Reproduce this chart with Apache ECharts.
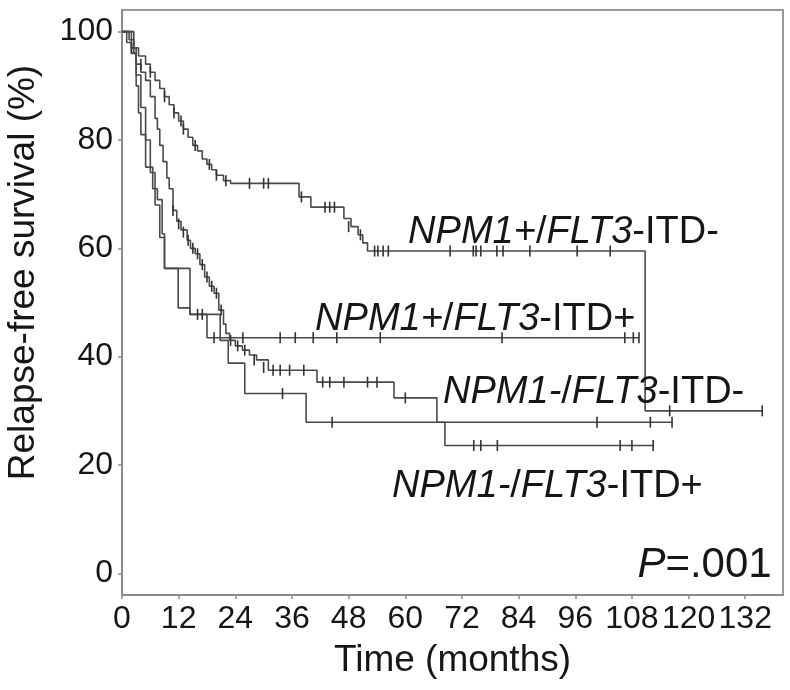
<!DOCTYPE html>
<html>
<head>
<meta charset="utf-8">
<script src="https://cdn.jsdelivr.net/npm/echarts@6/dist/echarts.min.js"></script>
<style>
  html, body { margin: 0; padding: 0; background: #fff; }
  #chart { width: 790px; height: 690px; }
</style>
</head>
<body>
<div id="chart"></div>
<script>
// tick values
let xTicks = [0, 12, 24, 36, 48, 60, 72, 84, 96, 108, 120, 132];
let yTicks = [0, 20, 40, 60, 80, 100];

// step points [months, survival %] (value after each drop)
let npmPosItdNeg = [[0,100],[1.5,98.5],[2.5,97],[3.5,95.5],[5,94],[6,92.5],[7,91],[8,89.5],[9,88],[10,86.5],[11,85],
    [12,83.5],[13,82],[14,80.5],[15,79],[16,78],[17,76.5],[18,75.5],[19,74.5],[20,73.5],[21.5,72.5],[23,72],
    [37.5,69.5],[40,67.6],[47,65.5],[48.5,64],[50,62.5],[51,61],[52,59.5],[110.8,30]];
let npmPosItdNegEnd = 135.6;
let npmPosItdNegCens = [[2,97],[4,94],[6,92.5],[9,88],[11,85],[12.5,83.5],[13,82],[15.5,79],[18.5,75.5],[20,73.5],
    [22,72.5],[27,72],[30,72],[31,72],[38,69.5],[43,67.6],[44,67.6],[45,67.6],[48,64],[50.5,62.5],[53.5,59.5],
    [54.2,59.5],[55.3,59.5],[56.4,59.5],[69.5,59.5],[74.4,59.5],[75,59.5],[76,59.5],[79.4,59.5],[80.7,59.5],
    [86.4,59.5],[96.4,59.5],[103.4,59.5],[116,30],[135.6,30]];

let npmPosItdPos = [[0,100],[2.5,96],[3,90],[3.5,85],[4,81],[5,75],[6.5,71],[7.5,69],[8.5,62.7],[9,56.3],
    [14.4,47.8],[18,43.5]];
let npmPosItdPosEnd = 109.5;
let npmPosItdPosCens = [[16,47.8],[17,47.8],[19.5,43.5],[25.6,43.5],[33.5,43.5],[36.7,43.5],[40.5,43.5],
    [45.5,43.5],[54.7,43.5],[80.5,43.5],[106.5,43.5],[108.3,43.5],[109.5,43.5]];

let npmNegItdNeg = [[0,100],[1,98],[2,96],[3,94],[4,92.5],[5,91],[6,88],[7,84],[7.5,82],[8,79],[8.7,76],[9.5,73],
    [10,71],[10.8,67],[11.6,65],[12.5,63.4],[13.8,61.5],[14.5,60],[15.5,59],[16.5,57],[17.5,54.7],[18.5,53],
    [19.5,51.7],[20.5,48.6],[21.5,46],[22,44.3],[22.8,43],[24,42],[25.5,41.2],[27,40.3],[28.5,39.4],[31,37.5],
    [41.3,35.3],[57.6,32.4],[66.7,27.9]];
let npmNegItdNegEnd = 116.5;
let npmNegItdNegCens = [[10.8,67],[12,64.5],[13,63],[14,61.5],[15,60],[16,59],[17,57],[18,54.7],[19,53],[20,51.7],
    [21,48.6],[23,43],[24.5,42],[26,41.2],[28,39.4],[30,38],[32,37.5],[33.5,37.5],[35.5,37.5],[38.5,37.5],
    [42.5,35.3],[44,35.3],[47,35.3],[52,35.3],[54,35.3],[60,32.4],[100.6,27.9],[111.9,27.9],[116.5,27.9]];

let npmNegItdPos = [[0,100],[2,97],[3,92],[4,86],[5,80],[6,74],[7,68],[8,62],[9,56.3],[11.9,49],[14.4,47.8],
    [20.8,43],[22.5,38.8],[26,33.2],[39,27.9],[68.4,23.6]];
let npmNegItdPosEnd = 112.5;
let npmNegItdPosCens = [[34,33.2],[44.5,27.9],[74.5,23.6],[76,23.6],[79.5,23.6],[105.5,23.6],[108,23.6],[112.5,23.6]];

// curve labels: [x, y, gene (italic), gene (italic), rest]
let curveLabels = [
    [60.6, 63.0, 'NPM1+', 'FLT3', '-ITD-'],
    [40.9, 46.9, 'NPM1+', 'FLT3', '-ITD+'],
    [68.0, 33.4, 'NPM1-', 'FLT3', '-ITD-'],
    [57.2, 16.0, 'NPM1-', 'FLT3', '-ITD+']
];
let pLabel = [137.6, 1.5];

const FONT = '"Liberation Sans", Arial, sans-serif';
const LINE = '#4a4a4a';
const TXT = '#161616';

function withEnd(pts, end){
    let out = pts.slice();
    out.push([end, pts[pts.length - 1][1]]);
    return out;
}

function curve(name, pts, end){
    return {
        name: name,
        type: 'line',
        step: 'end',
        data: withEnd(pts, end),
        showSymbol: false,
        lineStyle: { color: LINE, width: 1.6 },
        silent: true,
        z: 2
    };
}

function cens(name, pts){
    return {
        name: name,
        type: 'scatter',
        data: pts,
        symbol: 'rect',
        symbolSize: [1.6, 11],
        itemStyle: { color: '#333', opacity: 1 },
        silent: true,
        z: 3
    };
}

function textSeries(data, position, formatter, size){
    return {
        type: 'scatter',
        symbolSize: 0,
        silent: true,
        z: 5,
        itemStyle: { opacity: 1 },
        data: data,
        label: {
            show: true,
            position: position,
            distance: 0,
            color: TXT,
            formatter: formatter,
            rich: {
                i: { fontSize: size, fontStyle: 'italic', color: TXT, fontFamily: FONT },
                n: { fontSize: size, color: TXT, fontFamily: FONT }
            }
        }
    };
}

let chart = echarts.init(document.getElementById('chart'), null, { renderer: 'canvas' });

let option = {
    animation: false,
    backgroundColor: '#fff',
    textStyle: { fontFamily: FONT },
    grid: {
        left: 122, right: 7, top: 10, bottom: 95,
        outerBoundsMode: 'none',
        containLabel: false,
        show: true, borderColor: '#9a9a9a', borderWidth: 2
    },
    xAxis: {
        type: 'value',
        min: 0, max: 140,
        name: 'Time (months)',
        nameLocation: 'middle',
        nameGap: 47,
        nameTextStyle: { fontSize: 37, color: TXT, fontFamily: FONT },
        axisLine: { onZero: false, lineStyle: { color: '#8a8a8a', width: 2 } },
        axisTick: { show: true, length: 4, customValues: xTicks, lineStyle: { color: '#8a8a8a', width: 1.5 } },
        axisLabel: { customValues: xTicks, fontSize: 32, color: TXT, margin: 8, fontFamily: FONT },
        splitLine: { show: false }
    },
    yAxis: {
        type: 'value',
        min: -4, max: 104,
        name: 'Relapse-free survival (%)',
        nameLocation: 'middle',
        nameGap: 80,
        nameRotate: 90,
        // name sits a little above the middle of the axis
        nameTextStyle: { fontSize: 37, color: TXT, fontFamily: FONT, padding: [0, 0, 0, 60] },
        axisLine: { show: true, onZero: false, lineStyle: { color: '#8a8a8a', width: 2 } },
        axisTick: { show: true, length: 4, customValues: yTicks, lineStyle: { color: '#8a8a8a', width: 1.5 } },
        axisLabel: { customValues: yTicks, fontSize: 32, color: TXT, margin: 9, fontFamily: FONT },
        splitLine: { show: false }
    },
    series: [
        curve('NPM1+/FLT3-ITD-', npmPosItdNeg, npmPosItdNegEnd),
        curve('NPM1+/FLT3-ITD+', npmPosItdPos, npmPosItdPosEnd),
        curve('NPM1-/FLT3-ITD-', npmNegItdNeg, npmNegItdNegEnd),
        curve('NPM1-/FLT3-ITD+', npmNegItdPos, npmNegItdPosEnd),
        cens('c1', npmPosItdNegCens),
        cens('c2', npmPosItdPosCens),
        cens('c3', npmNegItdNegCens),
        cens('c4', npmNegItdPosCens),
        // curve names written on the plot
        textSeries(curveLabels.map(l => ({ value: [l[0], l[1]], parts: l })), 'right', function (p) {
            let l = p.data.parts;
            return '{i|' + l[2] + '}{n|/}{i|' + l[3] + '}{n|' + l[4] + '}';
        }, 38),
        textSeries([pLabel], 'left', '{i|P}{n|=.001}', 42)
    ]
};

chart.setOption(option);
</script>
</body>
</html>
